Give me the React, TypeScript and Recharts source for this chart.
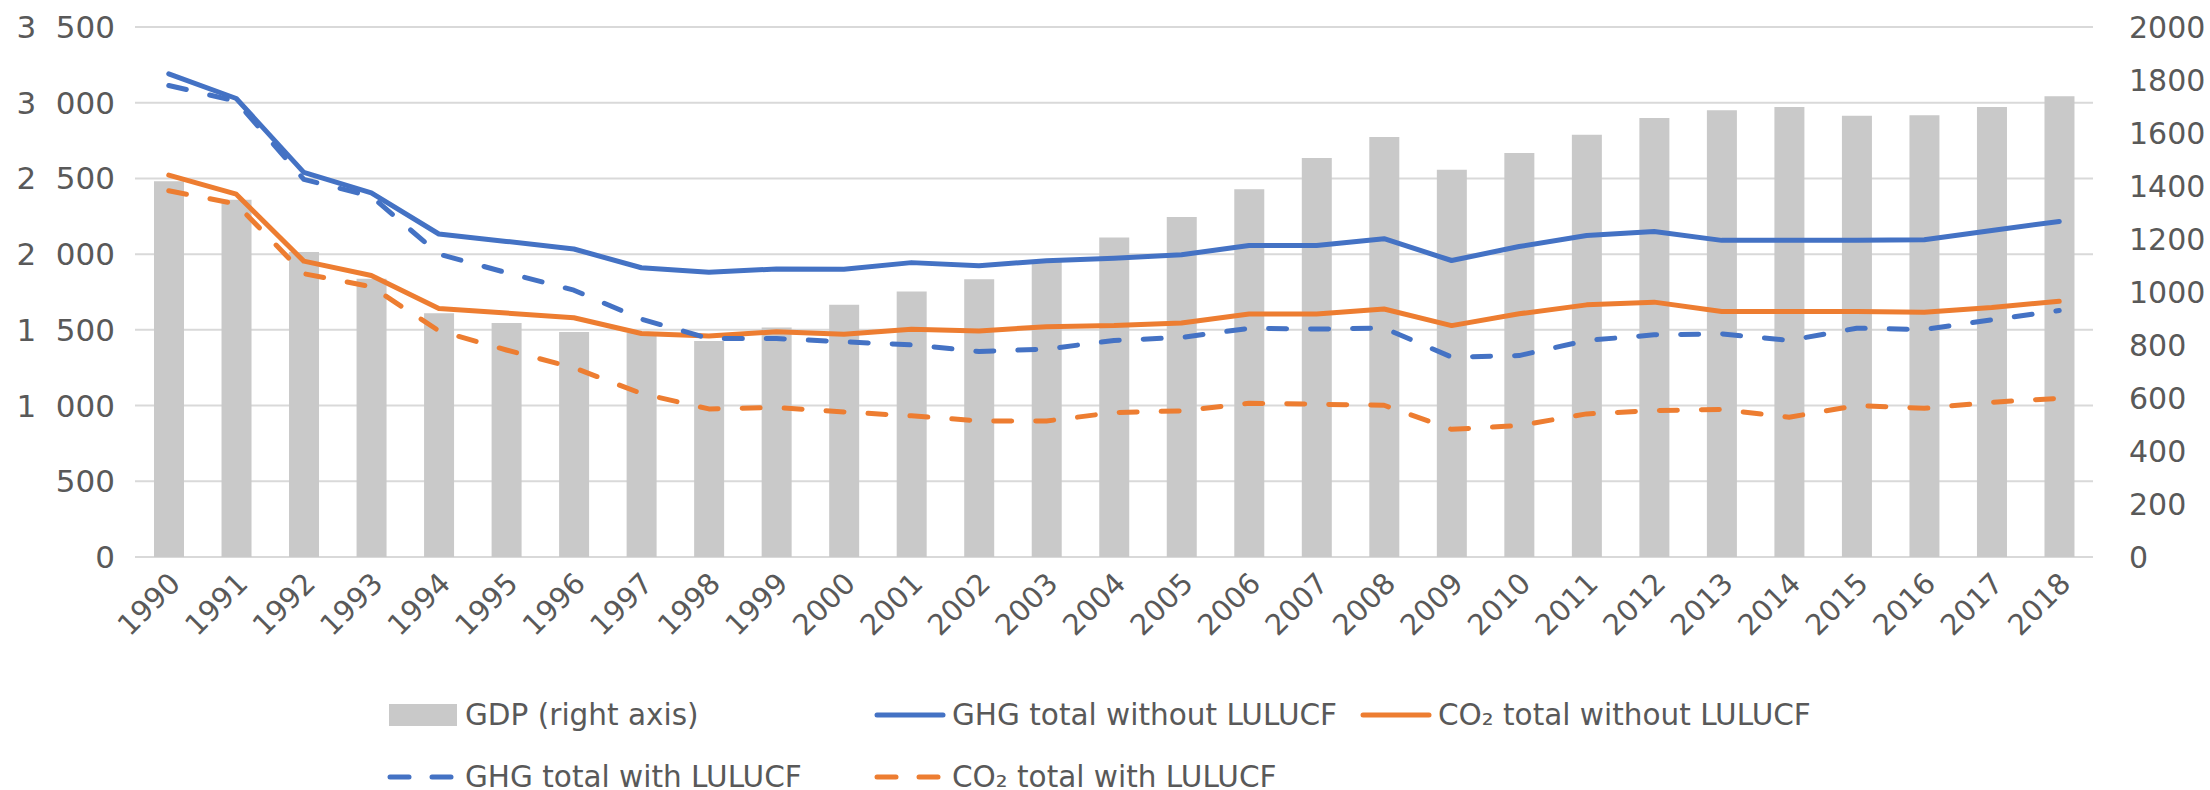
import { ComposedChart, Bar, Line, XAxis, YAxis, CartesianGrid } from 'recharts'

const YEARS = ['1990', '1991', '1992', '1993', '1994', '1995', '1996', '1997', '1998', '1999', '2000', '2001', '2002', '2003', '2004', '2005', '2006', '2007', '2008', '2009', '2010', '2011', '2012', '2013', '2014', '2015', '2016', '2017', '2018']

// GDP, right axis
const GDP = [1418, 1348, 1151, 1050, 920, 883, 849, 845, 815, 866, 952, 1002, 1048, 1113, 1206, 1283, 1388, 1506, 1585, 1461, 1525, 1593, 1657, 1686, 1698, 1665, 1667, 1698, 1739]
// emissions, left axis
const GHG_WITHOUT = [3191, 3028, 2540, 2405, 2133, 2084, 2034, 1910, 1880, 1902, 1900, 1944, 1924, 1956, 1973, 1996, 2057, 2057, 2102, 1958, 2050, 2123, 2150, 2091, 2091, 2091, 2095, 2156, 2216]
const CO2_WITHOUT = [2522, 2396, 1954, 1859, 1641, 1611, 1580, 1476, 1460, 1487, 1471, 1504, 1493, 1521, 1528, 1545, 1605, 1605, 1638, 1528, 1606, 1665, 1683, 1621, 1621, 1621, 1617, 1648, 1689]
const GHG_WITH = [3114, 3010, 2494, 2382, 2000, 1878, 1762, 1571, 1443, 1443, 1421, 1401, 1357, 1373, 1430, 1450, 1510, 1505, 1512, 1320, 1330, 1430, 1467, 1474, 1430, 1511, 1502, 1566, 1628]
const CO2_WITH = [2419, 2331, 1871, 1785, 1494, 1367, 1250, 1080, 978, 987, 958, 932, 899, 898, 954, 965, 1015, 1009, 1002, 843, 868, 945, 967, 974, 923, 1000, 982, 1022, 1048]

const LEFT_TICKS = [0, 500, 1000, 1500, 2000, 2500, 3000, 3500]
const RIGHT_TICKS = [0, 200, 400, 600, 800, 1000, 1200, 1400, 1600, 1800, 2000]

const BLUE = '#4472c4'
const ORANGE = '#ed7d31'
const GREY = '#c9c9c9'
const TEXT = '#595959'
const FONT = '"DejaVu Sans", sans-serif'

const data = YEARS.map((year, i) => ({
  year,
  gdp: GDP[i],
  ghg: GHG_WITHOUT[i],
  co2: CO2_WITHOUT[i],
  ghgL: GHG_WITH[i],
  co2L: CO2_WITH[i],
}))

// "3 500" style, figure space as thousands separator
const fmtThousands = (v: number) =>
  v >= 1000 ? `${Math.floor(v / 1000)}\u2007${String(v % 1000).padStart(3, '0')}` : String(v)

function YearTick({ x, y, payload }: any) {
  return (
    <g transform={`translate(${x + 6},${y + 13})`}>
      <text x={0} y={0} dy="0.35em" textAnchor="end" transform="rotate(-45)" fill={TEXT} fontSize={29} fontFamily={FONT}>
        {payload.value}
      </text>
    </g>
  )
}

function LegendItem({ x, y, kind, color, label }: { x: number; y: number; kind: string; color: string; label: string }) {
  return (
    <div style={{ position: 'absolute', left: x, top: y - 20, height: 40, display: 'flex', alignItems: 'center', whiteSpace: 'nowrap' }}>
      <svg width={72} height={40} style={{ marginRight: 6 }}>
        {kind === 'bar' && <rect x={2} y={9} width={68} height={22} fill={GREY} />}
        {kind === 'line' && <line x1={3} y1={20} x2={69} y2={20} stroke={color} strokeWidth={5} strokeLinecap="round" />}
        {kind === 'dash' && (
          <>
            <line x1={3} y1={20} x2={22} y2={20} stroke={color} strokeWidth={5} strokeLinecap="round" />
            <line x1={45} y1={20} x2={64} y2={20} stroke={color} strokeWidth={5} strokeLinecap="round" />
          </>
        )}
      </svg>
      <span style={{ fontFamily: FONT, fontSize: 29.5, color: TEXT }}>{label}</span>
    </div>
  )
}

export default function App() {
  return (
    <div style={{ position: 'absolute', left: 0, top: 0, width: 2210, height: 790, background: '#fff' }}>
      <ComposedChart width={2210} height={790} data={data} margin={{ top: 27, right: 0, bottom: 0, left: 0 }}>
        <CartesianGrid yAxisId="left" vertical={false} stroke="#d9d9d9" strokeWidth={2} />
        <XAxis dataKey="year" height={233} interval={0} axisLine={false} tickLine={false} tick={<YearTick />} />
        <YAxis
          yAxisId="left"
          width={135}
          domain={[0, 3500]}
          ticks={LEFT_TICKS}
          tickFormatter={fmtThousands}
          axisLine={false}
          tickLine={false}
          tickMargin={14}
          tick={{ fill: TEXT, fontSize: 31, fontFamily: FONT }}
        />
        <YAxis
          yAxisId="right"
          orientation="right"
          width={117}
          domain={[0, 2000]}
          ticks={RIGHT_TICKS}
          axisLine={false}
          tickLine={false}
          tickMargin={30}
          tick={{ fill: TEXT, fontSize: 30, fontFamily: FONT, textAnchor: 'start' }}
        />
        <Bar yAxisId="right" dataKey="gdp" fill={GREY} barSize={30} isAnimationActive={false} />
        <Line yAxisId="left" dataKey="ghg" stroke={BLUE} strokeWidth={5} dot={false} strokeLinecap="round" strokeLinejoin="round" isAnimationActive={false} />
        <Line yAxisId="left" dataKey="co2" stroke={ORANGE} strokeWidth={5} dot={false} strokeLinecap="round" strokeLinejoin="round" isAnimationActive={false} />
        <Line yAxisId="left" dataKey="ghgL" stroke={BLUE} strokeWidth={5} strokeDasharray="18 24" dot={false} strokeLinecap="round" strokeLinejoin="round" isAnimationActive={false} />
        <Line yAxisId="left" dataKey="co2L" stroke={ORANGE} strokeWidth={5} strokeDasharray="18 24" dot={false} strokeLinecap="round" strokeLinejoin="round" isAnimationActive={false} />
      </ComposedChart>

      <LegendItem x={387} y={715} kind="bar" color={GREY} label="GDP (right axis)" />
      <LegendItem x={874} y={715} kind="line" color={BLUE} label="GHG total without LULUCF" />
      <LegendItem x={1360} y={715} kind="line" color={ORANGE} label="CO₂ total without LULUCF" />
      <LegendItem x={387} y={777} kind="dash" color={BLUE} label="GHG total with LULUCF" />
      <LegendItem x={874} y={777} kind="dash" color={ORANGE} label="CO₂ total with LULUCF" />
    </div>
  )
}
